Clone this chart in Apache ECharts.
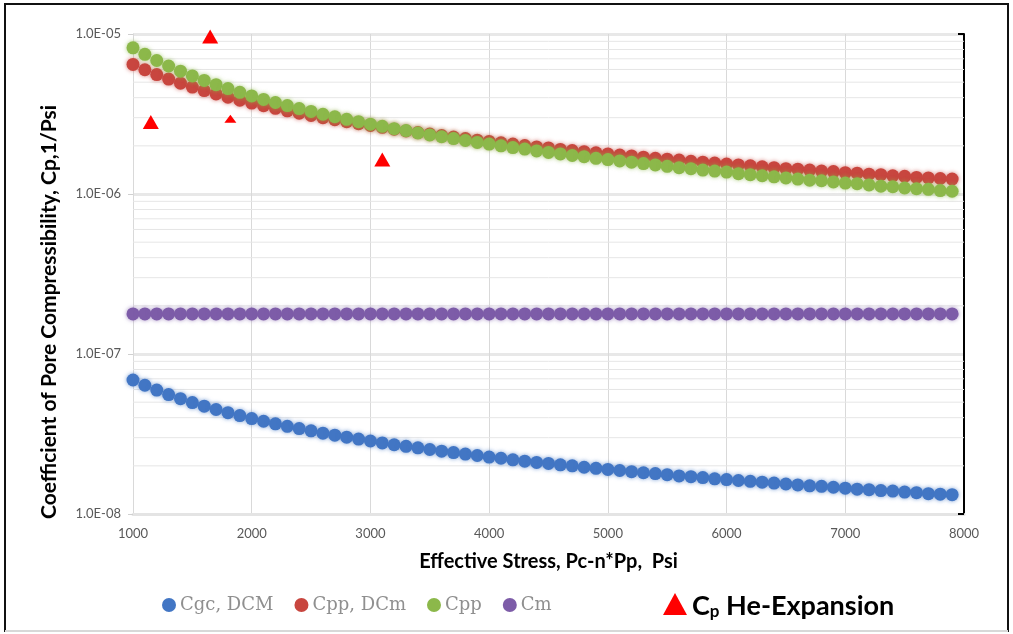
<!DOCTYPE html>
<html>
<head>
<meta charset="utf-8">
<script src="https://cdn.jsdelivr.net/npm/echarts@6/dist/echarts.min.js"></script>
<style>html,body{margin:0;padding:0;background:#fff}#c{width:1013px;height:634px}</style>
</head>
<body>
<div id="c"></div>
<script>
// ---- data ----
const stress = [
  1000,1100,1200,1300,1400,1500,1600,1700,1800,1900,
  2000,2100,2200,2300,2400,2500,2600,2700,2800,2900,
  3000,3100,3200,3300,3400,3500,3600,3700,3800,3900,
  4000,4100,4200,4300,4400,4500,4600,4700,4800,4900,
  5000,5100,5200,5300,5400,5500,5600,5700,5800,5900,
  6000,6100,6200,6300,6400,6500,6600,6700,6800,6900,
  7000,7100,7200,7300,7400,7500,7600,7700,7800,7900
];
const cgcDCM = [
  6.88e-8,6.38e-8,5.95e-8,5.58e-8,5.26e-8,4.97e-8,4.72e-8,4.50e-8,4.30e-8,4.12e-8,
  3.95e-8,3.80e-8,3.66e-8,3.53e-8,3.42e-8,3.31e-8,3.20e-8,3.11e-8,3.02e-8,2.94e-8,
  2.86e-8,2.78e-8,2.71e-8,2.65e-8,2.59e-8,2.53e-8,2.47e-8,2.42e-8,2.37e-8,2.32e-8,
  2.27e-8,2.23e-8,2.18e-8,2.14e-8,2.10e-8,2.07e-8,2.03e-8,2.00e-8,1.96e-8,1.93e-8,
  1.90e-8,1.87e-8,1.84e-8,1.81e-8,1.79e-8,1.76e-8,1.73e-8,1.71e-8,1.69e-8,1.66e-8,
  1.64e-8,1.62e-8,1.60e-8,1.58e-8,1.56e-8,1.54e-8,1.52e-8,1.50e-8,1.49e-8,1.47e-8,
  1.45e-8,1.43e-8,1.42e-8,1.40e-8,1.39e-8,1.37e-8,1.36e-8,1.34e-8,1.33e-8,1.32e-8
];
const cppDCm = [
  6.45e-6,5.98e-6,5.58e-6,5.23e-6,4.93e-6,4.66e-6,4.43e-6,4.22e-6,4.03e-6,3.86e-6,
  3.70e-6,3.56e-6,3.43e-6,3.31e-6,3.20e-6,3.10e-6,3.00e-6,2.91e-6,2.83e-6,2.75e-6,
  2.68e-6,2.61e-6,2.54e-6,2.48e-6,2.42e-6,2.37e-6,2.32e-6,2.27e-6,2.22e-6,2.17e-6,
  2.13e-6,2.09e-6,2.05e-6,2.01e-6,1.97e-6,1.94e-6,1.90e-6,1.87e-6,1.84e-6,1.81e-6,
  1.78e-6,1.75e-6,1.73e-6,1.70e-6,1.67e-6,1.65e-6,1.63e-6,1.60e-6,1.58e-6,1.56e-6,
  1.54e-6,1.52e-6,1.50e-6,1.48e-6,1.46e-6,1.44e-6,1.43e-6,1.41e-6,1.39e-6,1.38e-6,
  1.36e-6,1.35e-6,1.33e-6,1.32e-6,1.30e-6,1.29e-6,1.27e-6,1.26e-6,1.25e-6,1.24e-6
];
const cpp = [
  8.20e-6,7.46e-6,6.83e-6,6.31e-6,5.86e-6,5.47e-6,5.13e-6,4.82e-6,4.56e-6,4.32e-6,
  4.10e-6,3.90e-6,3.73e-6,3.57e-6,3.42e-6,3.28e-6,3.15e-6,3.04e-6,2.93e-6,2.83e-6,
  2.73e-6,2.65e-6,2.56e-6,2.49e-6,2.41e-6,2.34e-6,2.28e-6,2.22e-6,2.16e-6,2.10e-6,
  2.05e-6,2.00e-6,1.95e-6,1.91e-6,1.86e-6,1.82e-6,1.78e-6,1.74e-6,1.71e-6,1.67e-6,
  1.64e-6,1.61e-6,1.58e-6,1.55e-6,1.52e-6,1.49e-6,1.46e-6,1.44e-6,1.41e-6,1.39e-6,
  1.37e-6,1.34e-6,1.32e-6,1.30e-6,1.28e-6,1.26e-6,1.24e-6,1.22e-6,1.21e-6,1.19e-6,
  1.17e-6,1.16e-6,1.14e-6,1.12e-6,1.11e-6,1.09e-6,1.08e-6,1.07e-6,1.05e-6,1.04e-6
];
const cm = [
  1.78e-7,1.78e-7,1.78e-7,1.78e-7,1.78e-7,1.78e-7,1.78e-7,1.78e-7,1.78e-7,1.78e-7,
  1.78e-7,1.78e-7,1.78e-7,1.78e-7,1.78e-7,1.78e-7,1.78e-7,1.78e-7,1.78e-7,1.78e-7,
  1.78e-7,1.78e-7,1.78e-7,1.78e-7,1.78e-7,1.78e-7,1.78e-7,1.78e-7,1.78e-7,1.78e-7,
  1.78e-7,1.78e-7,1.78e-7,1.78e-7,1.78e-7,1.78e-7,1.78e-7,1.78e-7,1.78e-7,1.78e-7,
  1.78e-7,1.78e-7,1.78e-7,1.78e-7,1.78e-7,1.78e-7,1.78e-7,1.78e-7,1.78e-7,1.78e-7,
  1.78e-7,1.78e-7,1.78e-7,1.78e-7,1.78e-7,1.78e-7,1.78e-7,1.78e-7,1.78e-7,1.78e-7,
  1.78e-7,1.78e-7,1.78e-7,1.78e-7,1.78e-7,1.78e-7,1.78e-7,1.78e-7,1.78e-7,1.78e-7
];
const heStress = [1150, 1650, 1820, 3100];
const heCp = [2.82e-6, 9.65e-6, 2.95e-6, 1.64e-6];
const minorGrid = [
  2e-8,3e-8,4e-8,5e-8,6e-8,7e-8,8e-8,9e-8,
  2e-7,3e-7,4e-7,5e-7,6e-7,7e-7,8e-7,9e-7,
  2e-6,3e-6,4e-6,5e-6,6e-6,7e-6,8e-6,9e-6
];
const xRange = [1000, 8000];
const seriesNames = ['Cgc, DCM', 'Cpp, DCm', 'Cpp', 'Cm'];
const heName = 'Cp He-Expansion';

// ---- chart ----
const colors = ['#4276c4', '#c8463f', '#8cb84a', '#7d5ca8'];
const pairs = ys => stress.map((x, i) => [x, ys[i]]);
const fmtE = v => {
  const e = Math.round(Math.log10(v));
  return '1.0E' + (e < 0 ? '-' : '+') + String(Math.abs(e)).padStart(2, '0');
};
const dotSeries = [cgcDCM, cppDCm, cpp, cm].map((ys, k) => ({
  name: seriesNames[k],
  type: 'scatter',
  data: pairs(ys),
  symbol: 'circle',
  symbolSize: 13,
  z: 3,
  itemStyle: { color: colors[k], opacity: 1, shadowBlur: 4, shadowColor: colors[k] + 'aa' }
}));
const minorSeries = minorGrid.map((v, i) => ({
  name: 'minor' + i, type: 'line', z: 1, silent: true,
  data: xRange.map(x => [x, v]),
  showSymbol: false, symbol: 'none',
  lineStyle: { color: '#e6e6e6', width: 1 },
  tooltip: { show: false }
}));

const chart = echarts.init(document.getElementById('c'), null, { renderer: 'canvas' });
chart.setOption({
  backgroundColor: '#fff',
  animation: false,
  grid: { left: 133, right: 49, top: 34, bottom: 120, containLabel: false },
  xAxis: {
    type: 'value', min: 1000, max: 8000, interval: 1000,
    name: 'Effective Stress, Pc-n*Pp,  Psi',
    nameLocation: 'middle', nameGap: 38,
    nameTextStyle: { fontFamily: 'Lato', fontWeight: 'bold', fontSize: 20, color: '#000' },
    axisLine: { show: true, lineStyle: { color: '#e4e4e4', width: 3 } },
    axisTick: { show: false },
    axisLabel: { color: '#595959', fontFamily: 'Lato', fontSize: 13, margin: 13, formatter: v => String(v) },
    splitLine: { show: true, lineStyle: { color: '#d9d9d9', width: 1 } }
  },
  yAxis: [{
    type: 'log', logBase: 10, min: 1e-8, max: 1e-5,
    name: 'Coefficient of Pore Compressibility, Cp,1/Psi',
    nameLocation: 'middle', nameGap: 73,
    nameTextStyle: { fontFamily: 'Lato', fontWeight: 'bold', fontSize: 21, color: '#000', padding: [0, 76, 0, 0] },
    axisLine: { show: true, lineStyle: { color: '#d9d9d9', width: 1 } },
    axisTick: { show: true, length: 5, lineStyle: { color: '#d0d0d0' } },
    axisLabel: { color: '#595959', fontFamily: 'Lato', fontSize: 13, margin: 12, formatter: fmtE },
    splitLine: { show: true, lineStyle: { color: '#e8e8e8', width: 3 } }
  }, {
    type: 'log', logBase: 10, min: 1e-8, max: 1e-5, interval: 3,
    position: 'right',
    axisLine: { show: true, lineStyle: { color: '#000', width: 2 } },
    axisTick: { show: true, inside: true, length: 6, lineStyle: { color: '#000', width: 2 } },
    axisLabel: { show: false },
    splitLine: { show: false }
  }],
  legend: [{
    data: seriesNames,
    left: 157, top: 591,
    icon: 'circle', itemWidth: 14, itemHeight: 14, itemGap: 21,
    textStyle: { fontFamily: 'DejaVu Serif', fontSize: 18, color: '#8f8f8f', padding: [0, 0, 0, -1] }
  }, {
    data: [heName],
    left: 658, top: 588,
    icon: 'triangle', itemWidth: 24, itemHeight: 22, itemGap: 10,
    formatter: () => '{b|C}{s|p}{b| He-Expansion}',
    textStyle: {
      rich: {
        b: { fontFamily: 'Lato', fontWeight: 'bold', fontSize: 27, color: '#000', lineHeight: 32, verticalAlign: 'bottom' },
        s: { fontFamily: 'Lato', fontWeight: 'bold', fontSize: 17, color: '#000', lineHeight: 24, verticalAlign: 'bottom' }
      }
    }
  }],
  series: [
    ...minorSeries,
    ...dotSeries,
    {
      name: heName, type: 'scatter', z: 4,
      data: heStress.map((x, i) => [x, heCp[i]]),
      symbol: 'triangle',
      symbolSize: (v, p) => p.dataIndex === 2 ? [12, 8] : [16, 14],
      itemStyle: { color: '#ff0000', opacity: 1 }
    }
  ],
  graphic: [
    { type: 'polyline', silent: true, shape: { points: [[5, 632], [5, 4], [1008, 4], [1008, 632]] }, style: { stroke: '#111', lineWidth: 2, fill: null } },
    { type: 'line', silent: true, shape: { x1: 5, y1: 631, x2: 1008, y2: 631 }, style: { stroke: '#d8d8d8', lineWidth: 2 } }
  ]
});
</script>
</body>
</html>
